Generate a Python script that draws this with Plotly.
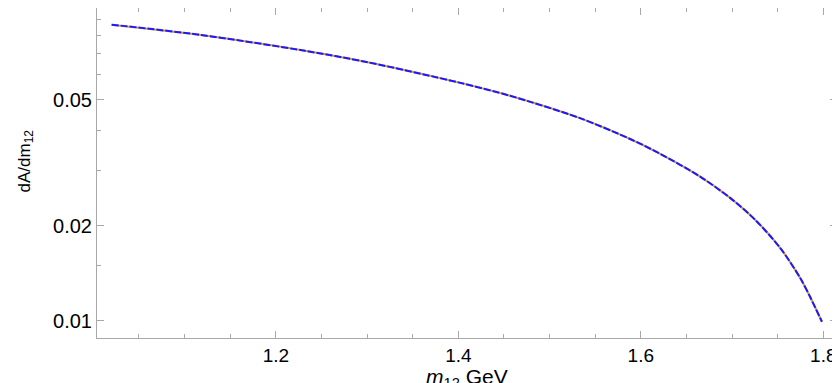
import plotly.graph_objects as go
import numpy as np

# Data
m12 = [1.0200, 1.1168, 1.2319, 1.3007, 1.4000, 1.4567, 1.5334, 1.5883, 1.6212, 1.6650,
       1.6979, 1.7253, 1.7527, 1.7747, 1.7856, 1.7985]
dA = [0.08655, 0.08035, 0.07155, 0.06580, 0.05683, 0.05156, 0.04379, 0.03763, 0.03378, 0.02861,
      0.02450, 0.02089, 0.01702, 0.01367, 0.01190, 0.00994]

x_major = [1.2, 1.4, 1.6, 1.8]
x_minor = [1.05, 1.1, 1.15, 1.25, 1.3, 1.35, 1.45, 1.5, 1.55, 1.65, 1.7, 1.75]
y_major = [0.01, 0.02, 0.05]
y_major_text = ["0.01", "0.02", "0.05"]
y_minor = [0.015, 0.03, 0.04, 0.06, 0.07, 0.08, 0.09]

fig = go.Figure()
fig.add_trace(go.Scatter(x=m12, y=dA, mode="lines",
                         line=dict(color="#d89a4a", width=2, shape="spline", smoothing=0.8),
                         showlegend=False, hoverinfo="skip"))
fig.add_trace(go.Scatter(x=m12, y=dA, mode="lines",
                         line=dict(color="#1a1aff", width=2, shape="spline", smoothing=0.8, dash="7px,2px"),
                         showlegend=False))

frame = "#a8a8a8"
fig.update_layout(
    width=832, height=375,
    margin=dict(l=89, r=3, t=0, b=45),
    paper_bgcolor="white", plot_bgcolor="white",
    font=dict(family="Liberation Sans, Arial, sans-serif", size=20, color="black"),
    xaxis=dict(
        range=[1.004, 1.815], showgrid=False, zeroline=False,
        showline=True, linecolor=frame, linewidth=1, mirror="ticks",
        ticks="inside", ticklen=7, tickcolor=frame, tickwidth=1,
        tickmode="array", tickvals=x_major, ticktext=[str(v) for v in x_major],
        minor=dict(tickmode="array", tickvals=x_minor, ticks="inside", ticklen=4, tickcolor=frame),
        tickfont=dict(size=19),
        automargin=False,
    ),
    yaxis=dict(
        type="log", range=[np.log10(0.00883), np.log10(0.0977)], showgrid=False, zeroline=False,
        showline=True, linecolor=frame, linewidth=1, mirror="ticks",
        ticks="inside", ticklen=7, tickcolor=frame, tickwidth=1,
        tickmode="array", tickvals=y_major, ticktext=y_major_text,
        minor=dict(tickmode="array", tickvals=y_minor, ticks="inside", ticklen=4, tickcolor=frame),
        tickfont=dict(size=20),
        automargin=False,
    ),
    annotations=[
        dict(text="dA/dm<sub>12</sub>", textangle=-90, xref="paper", yref="paper",
             x=0, y=0.535, xshift=-71, showarrow=False, font=dict(size=17),
             xanchor="center", yanchor="middle"),
        dict(text="<i>m</i><sub>12</sub> GeV", xref="paper", yref="paper",
             x=0.5, y=0, yshift=-25, showarrow=False, font=dict(size=21),
             xanchor="center", yanchor="top"),
    ],
)

fig.write_html("out.html")
